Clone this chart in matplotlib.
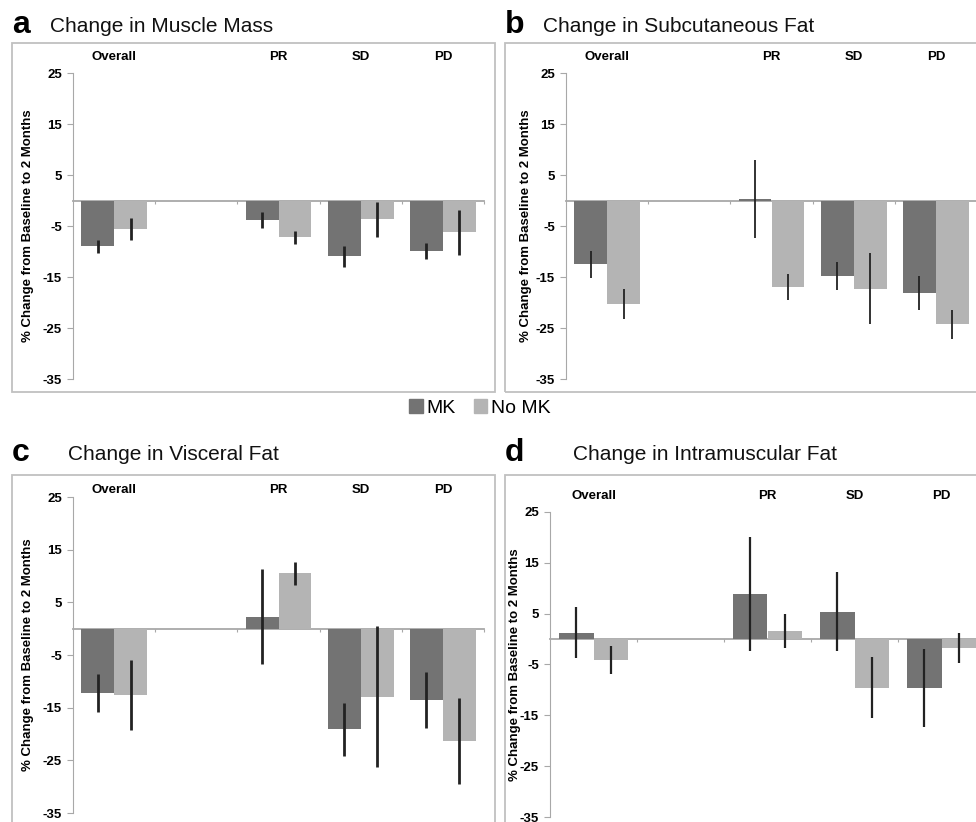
import matplotlib.pyplot as plt
from matplotlib.patches import Rectangle, Patch

plt.rcParams['font.family'] = ['Liberation Sans', 'DejaVu Sans']

categories = ['Overall', '', 'PR', 'SD', 'PD']
cat_idx = [0, 2, 3, 4]  # the second slot is left empty
yticks = [25, 15, 5, -5, -15, -25, -35]

muscle_mk = [-9.0, -3.8, -10.9, -9.9]
muscle_mk_err = [1.3, 1.6, 2.05, 1.5]
muscle_nomk = [-5.6, -7.2, -3.7, -6.2]
muscle_nomk_err = [2.2, 1.3, 3.4, 4.4]

subq_mk = [-12.5, 0.3, -14.8, -18.2]
subq_mk_err = [2.65, 7.7, 2.8, 3.3]
subq_nomk = [-20.3, -17.0, -17.3, -24.3]
subq_nomk_err = [2.9, 2.5, 7.0, 2.9]

visc_mk = [-12.2, 2.3, -19.1, -13.5]
visc_mk_err = [3.65, 9.05, 5.0, 5.35]
visc_nomk = [-12.6, 10.5, -12.9, -21.4]
visc_nomk_err = [6.7, 2.2, 13.4, 8.15]

imf_mk = [1.25, 8.85, 5.4, -9.6]
imf_mk_err = [5.05, 11.15, 7.8, 7.65]
imf_nomk = [-4.1, 1.6, -9.6, -1.7]
imf_nomk_err = [2.75, 3.3, 6.0, 2.95]

MK_COLOR = '#737373'
NOMK_COLOR = '#b4b4b4'
GRID_GRAY = '#a8a8a8'

W, H = 976, 822
fig = plt.figure(figsize=(W / 100, H / 100), dpi=100)


def fx(x):
    return x / W


def fy(y):
    return 1 - y / H


def panel(letter, title, box, axbox, title_y, label_x, cat_dy, mk, mk_err, nomk, nomk_err, elw):
    # gray frame around the panel
    bx0, by0, bx1, by1 = box
    fig.patches.append(Rectangle((fx(bx0), fy(by1)), fx(bx1 - bx0), (by1 - by0) / H,
                                 transform=fig.transFigure, fill=False,
                                 edgecolor='#c0c0c0', lw=1.3))
    fig.text(fx(bx0), fy(title_y + 1), letter, fontsize=23, fontweight='bold',
             ha='left', va='baseline')
    fig.text(fx(bx0 + (38 if letter in 'ab' else 56 if letter == 'c' else 68)), fy(title_y),
             title, fontsize=15, ha='left', va='baseline', color='#111111')

    x0, y0, x1, y1 = axbox
    ax = fig.add_axes([fx(x0), fy(y1), fx(x1 - x0), (y1 - y0) / H])
    ax.set_xlim(0, 5)
    ax.set_ylim(-35, 25)

    xs = [i + 0.5 for i in cat_idx]
    ax.bar([x - 0.2 for x in xs], mk, width=0.4, color=MK_COLOR, zorder=2)
    ax.bar([x + 0.2 for x in xs], nomk, width=0.4, color=NOMK_COLOR, zorder=2)
    ax.errorbar([x - 0.2 for x in xs], mk, yerr=mk_err, fmt='none',
                ecolor='#222222', elinewidth=elw, capsize=0, zorder=3)
    ax.errorbar([x + 0.2 for x in xs], nomk, yerr=nomk_err, fmt='none',
                ecolor='#222222', elinewidth=elw, capsize=0, zorder=3)

    for s in ['top', 'right']:
        ax.spines[s].set_visible(False)
    ax.spines['left'].set_color(GRID_GRAY)
    ax.spines['bottom'].set_color(GRID_GRAY)
    ax.spines['bottom'].set_linewidth(1.3)
    ax.spines['bottom'].set_position(('data', 0))
    ax.spines['bottom'].set_zorder(1)
    ax.set_xticks([1, 2, 3, 4, 5])
    ax.set_xticklabels([])
    ax.tick_params(axis='x', length=2.5, color=GRID_GRAY, direction='out')
    ax.set_yticks(yticks)
    ax.set_yticklabels([str(t) for t in yticks], fontsize=9.5, fontweight='bold')
    ax.tick_params(axis='y', length=4, color=GRID_GRAY, pad=4)
    ax.patch.set_visible(False)

    for i, c in enumerate(categories):
        if c:
            ax.annotate(c, xy=(i + 0.5, 1), xycoords=('data', 'axes fraction'),
                        xytext=(0, cat_dy), textcoords='offset points',
                        ha='center', va='center', fontsize=9.5, fontweight='bold')

    fig.text(fx(label_x), fy((y0 + y1) / 2), '% Change from Baseline to 2 Months',
             rotation=90, ha='center', va='center', fontsize=9.5, fontweight='bold')
    return ax


panel('a', 'Change in Muscle Mass', (12, 43, 495, 392), (73, 73, 484, 379),
      32, 28, 11.5, muscle_mk, muscle_mk_err, muscle_nomk, muscle_nomk_err, 2.0)
panel('b', 'Change in Subcutaneous Fat', (505, 43, 1000, 392), (566, 73, 977, 379),
      32, 526, 11.5, subq_mk, subq_mk_err, subq_nomk, subq_nomk_err, 1.3)
panel('c', 'Change in Visceral Fat', (12, 475, 495, 850), (73, 497, 484, 813),
      460, 28, 5, visc_mk, visc_mk_err, visc_nomk, visc_nomk_err, 2.0)
panel('d', 'Change in Intramuscular Fat', (505, 475, 1000, 850), (550, 512, 985, 817),
      460, 515, 11.5, imf_mk, imf_mk_err, imf_nomk, imf_nomk_err, 1.6)

handles = [Patch(color=MK_COLOR, label='MK'), Patch(color=NOMK_COLOR, label='No MK')]
fig.legend(handles=handles, loc='center', bbox_to_anchor=(fx(480), fy(408)), ncol=2,
           frameon=False, fontsize=14, handlelength=0.7, handleheight=0.7,
           handletextpad=0.2, columnspacing=0.9, borderpad=0)

fig.savefig('out.png', dpi=100)
